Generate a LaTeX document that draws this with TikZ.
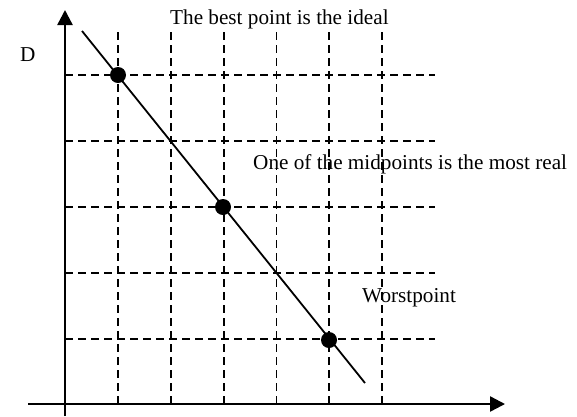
\documentclass[tikz,border=0pt]{standalone}
\usepackage{fontspec}
\setmainfont{Liberation Serif}
\usetikzlibrary{arrows.meta,positioning}

\begin{document}
\begin{tikzpicture}[x=1pt,y=-1pt,font=\fontsize{21.2}{24}\selectfont,
    gridline/.style={dash pattern=on 8pt off 5pt,line width=1.8pt},
    axisline/.style={line width=2.4pt,-{Triangle[length=15pt,width=15pt]}},
    dot/.style={circle,fill=black,inner sep=0pt,minimum size=16pt}]
        \useasboundingbox (0,0) rectangle (577,416);
        % dashed grid behind everything
        \foreach \i in {0,...,5}
          \draw[gridline] (118+52.8*\i,32) -- (118+52.8*\i,404);
        \foreach \j in {0,...,4}
          \draw[gridline] (65,75+66*\j) -- (435,75+66*\j);
        % axes
        \coordinate (ybot) at (65,416);
        \coordinate (ytop) at (65,10);
        \coordinate (xleft) at (28,404);
        \coordinate (xright) at (505,404);
        \draw[axisline] (ybot) -- (ytop);
        \draw[axisline] (xleft) -- (xright);
        % the line through best, mid and worst point
        \coordinate (ltop) at (82,31);
        \coordinate (lend) at (365,383);
        \draw[line width=1.8pt] (ltop) -- (lend);
        \node[dot] (best) at (118,75) {};
        \node[dot] (mid) at (223,207) {};
        \node[dot] (worst) at (329,340) {};
        % labels
        \node[anchor=base west,inner sep=0pt] (dlab) at (20,61) {D};
        \node[anchor=base west,inner sep=0pt] (ideal) at (170,24) {The best point is the ideal};
        \node[anchor=base west,inner sep=0pt] (real) at (253,169) {One of the midpoints is the most real};
        \node[anchor=base west,inner sep=0pt] (wlab) at (362,302) {Worstpoint};
      \end{tikzpicture}
\end{document}
